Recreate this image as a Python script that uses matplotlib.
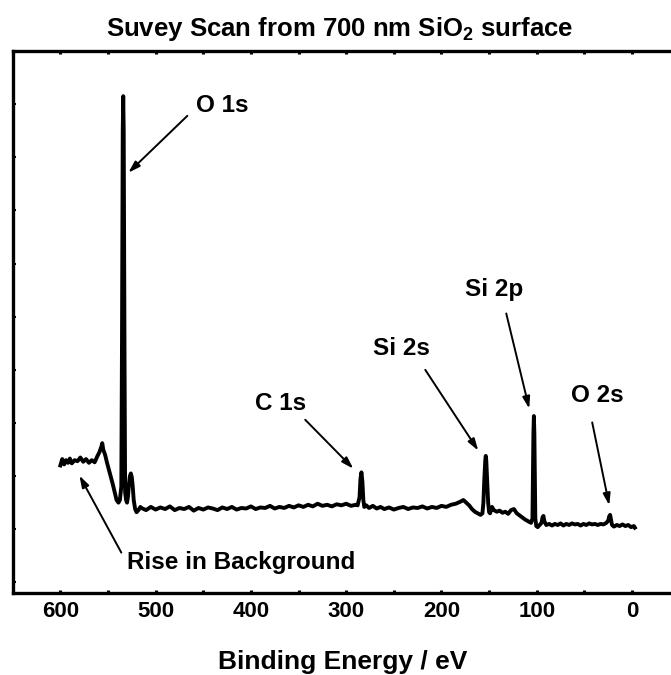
import matplotlib
matplotlib.use("Agg")
import matplotlib.pyplot as plt

plt.rcParams['font.family'] = ['Liberation Sans', 'DejaVu Sans']
plt.rcParams['font.weight'] = 'bold'
plt.rcParams['mathtext.default'] = 'regular'

# XPS survey spectrum (binding energy in eV, intensity in arb. units)
energy = [600, 598, 596, 594, 592, 590, 588, 585, 582, 579, 576, 573, 570, 567, 564, 561,
          559, 557, 556, 555, 553, 551, 548, 545, 543, 541, 539, 537.5, 536, 535.3, 534.5,
          534, 533.5, 532.7, 532, 531, 530, 529, 528, 527, 526, 525, 524, 523, 521.5, 520,
          518, 516,
          515, 510, 505, 500, 495, 490, 485, 480, 475, 470, 465, 460, 455, 450, 445, 440,
          435, 430, 425, 420, 415, 410, 405, 400, 395, 390, 385, 380, 375, 370, 365, 360,
          355, 350, 345, 340, 335, 330, 325, 320, 315, 310, 305, 300, 295, 290, 288,
          286, 285, 284, 283, 282, 281, 279, 276, 272, 268, 264, 260, 255, 250, 245, 240,
          235, 230, 225, 220, 215, 210, 205, 200, 195, 190, 185, 180, 177, 174, 171, 168,
          165, 162, 159, 157, 156, 155, 154, 153.5, 153, 152, 151, 150, 149, 147, 145, 142,
          139, 136, 133, 130, 127, 124, 121, 118, 115, 112, 109, 106, 104.5, 104, 103.5,
          103, 102.5, 102, 101.5, 100.5, 99, 97, 95, 94, 93, 92, 90, 87, 84, 81, 78, 75,
          72, 69, 66, 63, 60, 57, 54, 51, 48, 45, 42, 39, 36, 33, 30, 27, 25, 24, 23, 22,
          21, 19, 16, 13, 10, 7, 4, 1, -2, -3]
intensity = [2.20, 2.32, 2.22, 2.30, 2.25, 2.33, 2.24, 2.30, 2.28, 2.35, 2.27, 2.32, 2.25,
             2.30, 2.26, 2.38, 2.45, 2.55, 2.62, 2.50, 2.40, 2.25, 2.05, 1.85, 1.70, 1.55,
             1.50, 1.55, 1.80, 4.50, 8.50, 9.15, 8.50, 4.50, 1.70, 1.55, 1.50, 1.62, 1.85,
             2.00, 2.05, 1.98, 1.80, 1.55, 1.38, 1.32, 1.36, 1.42,
             1.40, 1.36, 1.42, 1.37, 1.41, 1.38, 1.43, 1.36, 1.40, 1.38, 1.42, 1.35, 1.40,
             1.37, 1.41, 1.39, 1.36, 1.41, 1.38, 1.42, 1.37, 1.40, 1.39, 1.43, 1.38, 1.41,
             1.40, 1.44, 1.39, 1.42, 1.40, 1.44, 1.41, 1.45, 1.42, 1.46, 1.43, 1.48, 1.44,
             1.46, 1.43, 1.47, 1.45, 1.48, 1.44, 1.46, 1.45,
             1.60, 1.95, 2.07, 1.90, 1.55, 1.42, 1.45, 1.40, 1.44, 1.39, 1.42, 1.38, 1.41,
             1.37, 1.40, 1.42, 1.38, 1.41, 1.40, 1.43, 1.39, 1.42, 1.40, 1.44, 1.42, 1.46,
             1.48, 1.52, 1.55, 1.50, 1.45, 1.38, 1.33, 1.30, 1.27, 1.30, 1.50, 1.95, 2.30,
             2.38, 2.30, 1.90, 1.50, 1.32, 1.30, 1.42, 1.36, 1.33, 1.35, 1.31, 1.33, 1.29,
             1.36, 1.38, 1.30, 1.26, 1.22, 1.18, 1.15, 1.12, 1.20, 2.00, 2.80, 3.13, 2.80,
             1.90, 1.20, 1.06, 1.04, 1.08, 1.12, 1.22, 1.25, 1.15, 1.08, 1.10, 1.07, 1.10,
             1.08, 1.11, 1.07, 1.10, 1.08, 1.11, 1.09, 1.10, 1.07, 1.10, 1.08, 1.11, 1.09,
             1.10, 1.08, 1.10, 1.09, 1.12, 1.16, 1.24, 1.27, 1.18, 1.08, 1.05, 1.08, 1.06,
             1.09, 1.06, 1.08, 1.04, 1.06, 1.03]

# peak labels: text, label position, arrow tail, arrow head (data coords)
labels = ["O 1s", "C 1s", "Si 2s", "Si 2p", "O 2s", "Rise in Background"]
label_pos = [(430, 8.97), (369, 3.36), (242, 4.40), (144.6, 5.51), (36.5, 3.52), (410, 0.38)]
arrow_tail = [(466.7, 8.78), (343, 3.06), (217, 4.00), (132, 5.06), (41.8, 3.01), (536, 0.56)]
arrow_head = [(528.6, 7.71), (292.5, 2.14), (161.4, 2.48), (107.9, 3.27), (23.9, 1.45), (580, 2.01)]

fig = plt.figure(figsize=(6.71, 6.75), dpi=100)
ax = fig.add_axes([12.7 / 671, 82 / 675, 660.3 / 671, 542 / 675])
ax.plot(energy, intensity, color='k', lw=2.8, solid_joinstyle='round')

ax.set_xlim(650, -43)
ax.set_ylim(-0.2, 10)
ax.set_xticks([600, 500, 400, 300, 200, 100, 0])
ax.set_xticks([650, 550, 450, 350, 250, 150, 50], minor=True)
ax.set_yticks(range(0, 10))
ax.set_yticklabels([])
ax.tick_params(axis='x', which='major', direction='out', length=9, width=2.2,
               labelsize=16, pad=6)
ax.tick_params(axis='x', which='minor', direction='out', length=5, width=2.2)
ax.tick_params(axis='y', direction='in', length=3, width=1.5)
ax.tick_params(top=True, which='both', direction='in', length=2)
for s in ax.spines.values():
    s.set_linewidth(2.4)
for t in ax.get_xticklabels():
    t.set_fontweight('bold')

ax.set_xlabel("Binding Energy / eV", fontsize=19, fontweight='bold', labelpad=20)
fig.text(340 / 671, 1 - 29 / 675, "Suvey Scan from 700 nm SiO$_2$ surface",
         ha='center', va='center', fontsize=18.5, fontweight='bold')

for i in range(len(labels)):
    ax.text(label_pos[i][0], label_pos[i][1], labels[i], ha='center', va='center',
            fontsize=17.5, fontweight='bold')
    ax.annotate('', xy=arrow_head[i], xytext=arrow_tail[i],
                arrowprops=dict(arrowstyle='-|>,head_length=0.7,head_width=0.22',
                                color='k', lw=1.4, shrinkA=0, shrinkB=0))

fig.savefig("out.png", dpi=100)
